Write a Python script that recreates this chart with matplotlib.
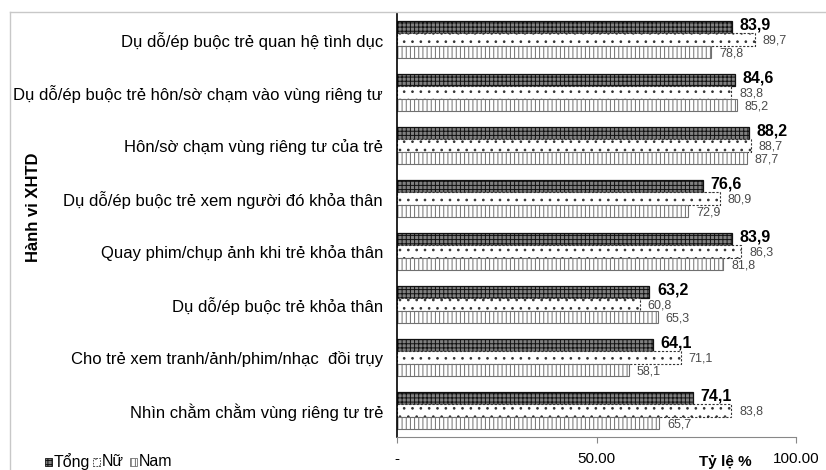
import matplotlib
matplotlib.use("Agg")
import matplotlib.pyplot as plt
from matplotlib.lines import Line2D
from matplotlib.patches import Rectangle
import numpy as np

categories = [
    "Dụ dỗ/ép buộc trẻ quan hệ tình dục",
    "Dụ dỗ/ép buộc trẻ hôn/sờ chạm vào vùng riêng tư",
    "Hôn/sờ chạm vùng riêng tư của trẻ",
    "Dụ dỗ/ép buộc trẻ xem người đó khỏa thân",
    "Quay phim/chụp ảnh khi trẻ khỏa thân",
    "Dụ dỗ/ép buộc trẻ khỏa thân",
    "Cho trẻ xem tranh/ảnh/phim/nhạc  đồi trụy",
    "Nhìn chằm chằm vùng riêng tư trẻ",
]
tong = [83.9, 84.6, 88.2, 76.6, 83.9, 63.2, 64.1, 74.1]
nu = [89.7, 83.8, 88.7, 80.9, 86.3, 60.8, 71.1, 83.8]
nam = [78.8, 85.2, 87.7, 72.9, 81.8, 65.3, 58.1, 65.7]
series_names = ["Tổng", "Nữ", "Nam"]
xticks = [0, 50, 100]
xticklabels = ["-", "50.00", "100.00"]

plt.rcParams["hatch.linewidth"] = 0.7
FONT = ["Liberation Sans", "DejaVu Sans"]

fig = plt.figure(figsize=(8.26, 4.70), dpi=100)
W, H = 826, 470
ax = fig.add_axes([397 / W, 1 - 437 / H, (796 - 397) / W, (437 - 13) / H])

n = len(categories)
y = np.arange(n)
bh = 0.24
styles = [
    dict(facecolor="#808080", edgecolor="#111111", hatch="++++", linewidth=0.9),
    dict(facecolor="white", edgecolor="#333333", hatch="..", linewidth=0.8, linestyle=(0, (2, 1.5))),
    dict(facecolor="white", edgecolor="#707070", hatch="||||", linewidth=0.8),
]
for i, (vals, st) in enumerate(zip([tong, nu, nam], styles)):
    ax.barh(y + (i - 1) * bh, vals, height=bh * 0.97, **st)

def fmt(v):
    return f"{v:.1f}".replace(".", ",")

for j in range(n):
    ax.text(tong[j] + 2.0, y[j] - bh - 0.03, fmt(tong[j]),
            va="center", ha="left", fontsize=11.5, fontweight="bold", color="black", family=FONT)
    ax.text(nu[j] + 2.0, y[j] + 0.02, fmt(nu[j]),
            va="center", ha="left", fontsize=9, color="#4a4a4a", family=FONT)
    ax.text(nam[j] + 2.0, y[j] + bh + 0.02, fmt(nam[j]),
            va="center", ha="left", fontsize=9, color="#4a4a4a", family=FONT)

ax.set_ylim(n - 0.5, -0.5)
ax.set_xlim(0, 100)
ax.set_yticks(y)
ax.set_yticklabels(categories, family=FONT, fontsize=12)
ax.tick_params(axis="y", length=0, pad=10)
ax.set_xticks(xticks)
ax.set_xticklabels(xticklabels, family=FONT, fontsize=11)
ax.tick_params(axis="x", length=4.5, color="#888888", pad=6.5, direction="out")
for s in ["top", "right"]:
    ax.spines[s].set_visible(False)
ax.spines["bottom"].set_color("#888888")
ax.spines["left"].set_color("black")
ax.spines["left"].set_linewidth(1.2)

fig.text(725 / W, 1 - 462 / H, "Tỷ lệ %", ha="center", va="center", fontsize=11,
         fontweight="bold", family=FONT)
fig.text(33 / W, 1 - 207 / H, "Hành vi XHTD", rotation=90, ha="center", va="center",
         fontsize=12, fontweight="bold", family=FONT)

# legend
leg_items = [(45, styles[0], "Tổng"), (93, styles[1], "Nữ"), (130, styles[2], "Nam")]
for x0, st, lab in leg_items:
    st2 = dict(st)
    st2["linewidth"] = 0.6
    fig.patches.append(Rectangle((x0 / W, 1 - 466 / H), 7 / W, 8 / H, transform=fig.transFigure, **st2))
    fig.text((x0 + 9) / W, 1 - 462 / H, lab, ha="left", va="center", fontsize=11.5, family=FONT)

# chart frame
fig.add_artist(Line2D([10 / W, 10 / W], [0, 1 - 12 / H], color="#c8c8c8", lw=1, transform=fig.transFigure))
fig.add_artist(Line2D([10 / W, 1], [1 - 12 / H, 1 - 12 / H], color="#c8c8c8", lw=1, transform=fig.transFigure))

fig.savefig("out.png", dpi=100)
